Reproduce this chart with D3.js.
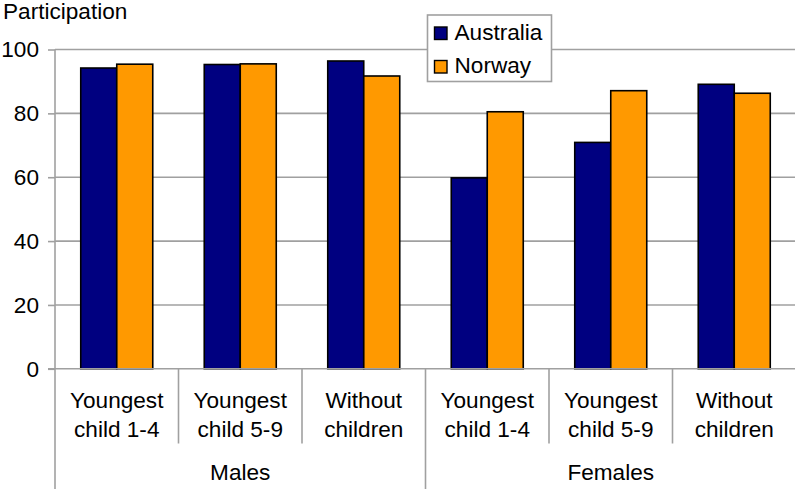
<!DOCTYPE html>
<html>
<head>
<meta charset="utf-8">
<script src="https://cdn.jsdelivr.net/npm/d3@7"></script>
<style>
  html, body { margin: 0; padding: 0; background: #fff; }
  svg { display: block; }
  text { font-family: Arial, "Liberation Sans", sans-serif; fill: #000; }
</style>
</head>
<body>
<svg id="chart" width="795" height="489"></svg>
<script>
// Labour force participation by family situation
const groups = ["Males", "Females"];
const subcategories = ["Youngest\nchild 1-4", "Youngest\nchild 5-9", "Without\nchildren"];
const seriesNames = ["Australia", "Norway"];
const australia = [94.2, 95.3, 96.4, 59.8, 70.9, 89.1];
const norway    = [95.4, 95.5, 91.7, 80.5, 87.1, 86.3];
const yTicks = [0, 20, 40, 60, 80, 100];
const colors = ["#000080", "#ff9900"];

const svg = d3.select("#chart");
const W = 795, H = 489;
const plot = { left: 55, right: 796, top: 49.5, bottom: 368.8 };
const fontSize = 22.6;

// one key per bar cluster
const keys = [];
groups.forEach(g => subcategories.forEach(s => keys.push(g + "|" + s)));

const rows = keys.map((k, i) => ({ key: k, Australia: australia[i], Norway: norway[i] }));

const x0 = d3.scaleBand().domain(keys).range([plot.left, plot.right]).padding(0);
const x1 = d3.scaleBand().domain(seriesNames).range([0, x0.bandwidth()]).paddingInner(0).paddingOuter(0.715);
const y = d3.scaleLinear().domain([0, 100]).range([plot.bottom, plot.top]);

const gray = "#a0a0a0";

// horizontal gridlines
svg.append("g").selectAll("line").data(yTicks.filter(t => t > 0)).join("line")
  .attr("x1", plot.left).attr("x2", W)
  .attr("y1", d => y(d)).attr("y2", d => y(d))
  .attr("stroke", gray).attr("stroke-width", 1.6);

// y axis
const yAxis = svg.append("g").attr("transform", `translate(${plot.left},0)`)
  .call(d3.axisLeft(y).tickValues(yTicks).tickSize(7).tickPadding(9));
yAxis.select(".domain").attr("stroke", gray).attr("stroke-width", 1.6)
  .attr("d", `M0,${plot.top}V${plot.bottom}`);
yAxis.selectAll(".tick line").attr("stroke", gray).attr("stroke-width", 1.6);
yAxis.selectAll(".tick text").attr("font-size", fontSize).attr("fill", "#000")
  .style("font-family", "Arial, 'Liberation Sans', sans-serif");

// bars
const cluster = svg.append("g").selectAll("g").data(rows).join("g")
  .attr("transform", d => `translate(${x0(d.key)},0)`);
cluster.selectAll("rect").data(d => seriesNames.map((s, i) => ({ s, i, v: d[s] }))).join("rect")
  .attr("x", d => x1(d.s))
  .attr("width", x1.bandwidth())
  .attr("y", d => y(d.v))
  .attr("height", d => y(0) - y(d.v))
  .attr("fill", d => colors[d.i])
  .attr("stroke", "#000").attr("stroke-width", 1.6);

// category axis line
svg.append("line")
  .attr("x1", plot.left - 7).attr("x2", W)
  .attr("y1", plot.bottom).attr("y2", plot.bottom)
  .attr("stroke", gray).attr("stroke-width", 1.6);

// dividers between subcategories and between groups
const catAxis = svg.append("g");
keys.forEach((k, i) => {
  const xPos = x0(k);
  const isGroupStart = i % subcategories.length === 0;
  catAxis.append("line")
    .attr("x1", xPos).attr("x2", xPos)
    .attr("y1", plot.bottom).attr("y2", isGroupStart ? H : 443.5)
    .attr("stroke", gray).attr("stroke-width", 1.6);
});

// subcategory labels (two lines each)
keys.forEach((k, i) => {
  const lines = subcategories[i % subcategories.length].split("\n");
  const t = catAxis.append("text")
    .attr("x", x0(k) + x0.bandwidth() / 2)
    .attr("y", 408)
    .attr("text-anchor", "middle")
    .attr("font-size", fontSize);
  lines.forEach((ln, j) => {
    t.append("tspan").attr("x", x0(k) + x0.bandwidth() / 2).attr("dy", j === 0 ? 0 : 28.7).text(ln);
  });
});

// group labels
groups.forEach((g, gi) => {
  const first = x0(g + "|" + subcategories[0]);
  const last = x0(g + "|" + subcategories[subcategories.length - 1]) + x0.bandwidth();
  catAxis.append("text")
    .attr("x", (first + last) / 2)
    .attr("y", 480)
    .attr("text-anchor", "middle")
    .attr("font-size", fontSize)
    .text(g);
});

// axis title
svg.append("text")
  .attr("x", 3).attr("y", 19)
  .attr("font-size", fontSize)
  .text("Participation");

// legend
const legend = svg.append("g").attr("transform", "translate(427.5,15)");
legend.append("rect")
  .attr("width", 124).attr("height", 66.5)
  .attr("fill", "#fff").attr("stroke", "#a0a0a0").attr("stroke-width", 1.6);
seriesNames.forEach((s, i) => {
  const row = legend.append("g").attr("transform", `translate(7,${12 + i * 33.5})`);
  row.append("rect")
    .attr("width", 12.5).attr("height", 12.5)
    .attr("fill", colors[i]).attr("stroke", "#000").attr("stroke-width", 1.4);
  row.append("text")
    .attr("x", 20).attr("y", 12.8)
    .attr("font-size", fontSize)
    .text(s);
});
</script>
</body>
</html>
